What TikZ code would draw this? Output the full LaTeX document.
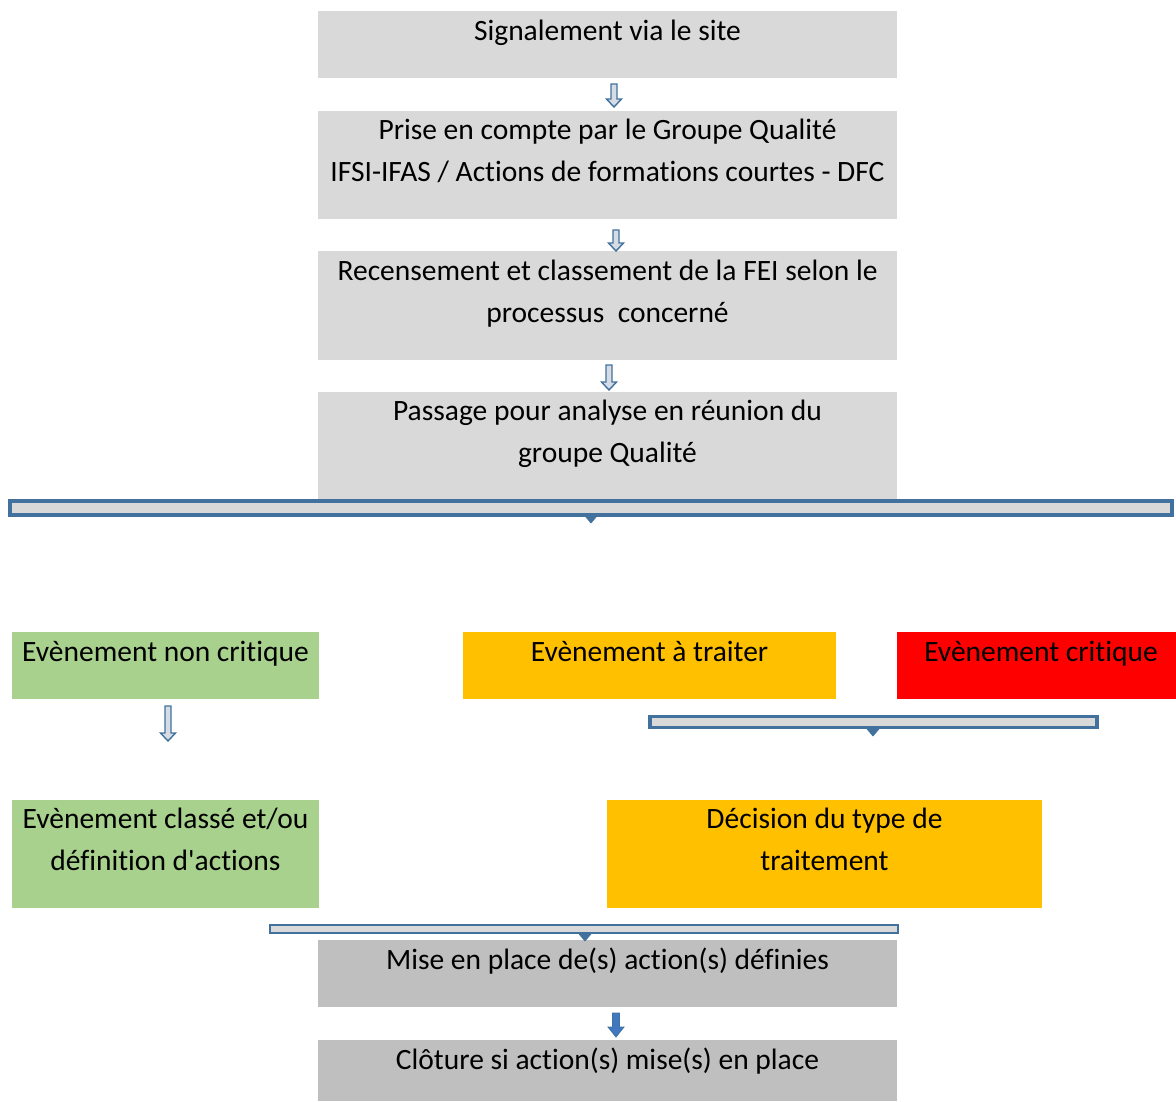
\documentclass[tikz,border=0pt]{standalone}
\usepackage{fontspec}
\setmainfont{Carlito}[Ligatures={TeX,NoCommon}]
\newfontfamily\aposfont{Carlito}[Ligatures={ResetAll,NoCommon}]
\usetikzlibrary{calc}
\definecolor{lgray}{HTML}{D9D9D9}
\definecolor{dgray}{HTML}{BFBFBF}
\definecolor{lgreen}{HTML}{A9D18E}
\definecolor{orng}{HTML}{FFC000}
\definecolor{rred}{HTML}{FF0000}
\definecolor{bblue}{HTML}{41719C}
\definecolor{sblue}{HTML}{3F78C0}
\definecolor{afill}{HTML}{D6DCE5}
\tikzset{
  box/.style={rectangle, inner sep=0pt, outer sep=0pt, draw=none},
  txt/.style={anchor=base, align=center, inner sep=0pt, font=\fontsize{29.5}{41.5}\selectfont},
  bracketbox/.style={rectangle, inner sep=0pt, outer sep=0pt, draw=bblue, line width=3.2pt, fill=lgray},
  harrowstyle/.style={draw=bblue, line width=1.4pt, fill=afill, line join=miter},
  sarrowstyle/.style={draw=bblue, line width=0.8pt, fill=sblue},
  pointer/.style={fill=bblue, draw=bblue, line width=0.6pt}
}
\newcommand\harr[2]{\path[harrowstyle] let \p1=#1, \p2=#2 in
  (\x1-3pt,\y1) -- (\x1+3pt,\y1) -- (\x1+3pt,\y2+8pt) -- (\x1+7.5pt,\y2+8pt) -- (\x1,\y2) -- (\x1-7.5pt,\y2+8pt) -- (\x1-3pt,\y2+8pt) -- cycle;}
\newcommand\sarr[2]{\path[sarrowstyle] let \p1=#1, \p2=#2 in
  (\x1-3.5pt,\y1) -- (\x1+3.5pt,\y1) -- (\x1+3.5pt,\y2+10pt) -- (\x1+8pt,\y2+10pt) -- (\x1,\y2) -- (\x1-8pt,\y2+10pt) -- (\x1-3.5pt,\y2+10pt) -- cycle;}
\newcommand\pointy[2]{\path[pointer] let \p1=#1 in (\x1-6pt,\y1) -- (\x1+6pt,\y1) -- (\x1,\y1-#2) -- cycle;}
\newcommand\apos{{\aposfont'}}
\begin{document}
\begin{tikzpicture}[x=1pt,y=-1pt]
\useasboundingbox (0,0) rectangle (1176,1101);
% boxes
\node[box, fill=lgray, minimum width=579pt, minimum height=67pt] (b1) at (607.5,44.5) {};
\node[box, fill=lgray, minimum width=579pt, minimum height=108pt] (b2) at (607.5,165) {};
\node[box, fill=lgray, minimum width=579pt, minimum height=109pt] (b3) at (607.5,305.5) {};
\node[box, fill=lgray, minimum width=579pt, minimum height=110pt] (b4) at (607.5,447) {};
\node[box, fill=lgreen, minimum width=307pt, minimum height=67pt] (g1) at (165.5,665.5) {};
\node[box, fill=orng, minimum width=373pt, minimum height=67pt] (o1) at (649.5,665.5) {};
\node[box, fill=rred, minimum width=279pt, minimum height=67pt] (r1) at (1036.5,665.5) {};
\node[box, fill=lgreen, minimum width=307pt, minimum height=108pt] (g2) at (165.5,854) {};
\node[box, fill=orng, minimum width=435pt, minimum height=108pt] (o2) at (824.5,854) {};
\node[box, fill=dgray, minimum width=579pt, minimum height=67pt] (c1) at (607.5,973.5) {};
\node[box, fill=dgray, minimum width=579pt, minimum height=61pt] (c2) at (607.5,1070.5) {};
% texts (anchor = baseline of last line)
\node[txt] (t1) at (607.5,40) {Signalement via le site};
\node[txt] (t2) at (607.5,181) {Prise en compte par le Groupe Qualité\\IFSI-IFAS / Actions de formations courtes - DFC};
\node[txt] (t3) at (607.5,322) {Recensement et classement de la FEI selon le\\processus\ \ concerné};
\node[txt] (t4) at (607.5,462) {Passage pour analyse en réunion du\\groupe Qualité};
\node[txt] (tg1) at (165.5,661) {Evènement non critique};
\node[txt] (to1) at (649.5,661) {Evènement à traiter};
\node[txt] (tr1) at (1041,661) {Evènement critique};
\node[txt] (tg2) at (165.5,870) {Evènement classé et/ou\\définition d\apos actions};
\node[txt] (to2) at (824.5,870) {Décision du type de\\traitement};
\node[txt] (tc1) at (607.5,969) {Mise en place de(s) action(s) définies};
\node[txt] (tc2) at (607.5,1069) {Clôture si action(s) mise(s) en place};
% arrows
\harr{($(b1.south)+(6.5,6)$)}{($(b2.north)+(6.5,-4)$)}
\harr{($(b2.south)+(8.5,11)$)}{($(b3.north)+(8.5,0)$)}
\harr{($(b3.south)+(1.5,5)$)}{($(b4.north)+(1.5,-2)$)}
\harr{($(g1.south)+(2.5,7)$)}{($(g2.north)+(2.5,-59)$)}
\sarr{($(c1.south)+(8.5,6)$)}{($(c2.north)+(8.5,-3)$)}
% brackets
\node[bracketbox, minimum width=1162pt, minimum height=14pt] (br1) at (591,508) {};
\pointy{($(br1.south)+(0,1)$)}{7pt}
\node[bracketbox, minimum width=447pt, minimum height=11pt] (br2) at (873.5,722) {};
\pointy{(873,729)}{7pt}
\node[bracketbox, line width=2.6pt, minimum width=628pt, minimum height=8pt] (br3) at (584,929) {};
\pointy{(585,934)}{7pt}
\end{tikzpicture}
\end{document}
